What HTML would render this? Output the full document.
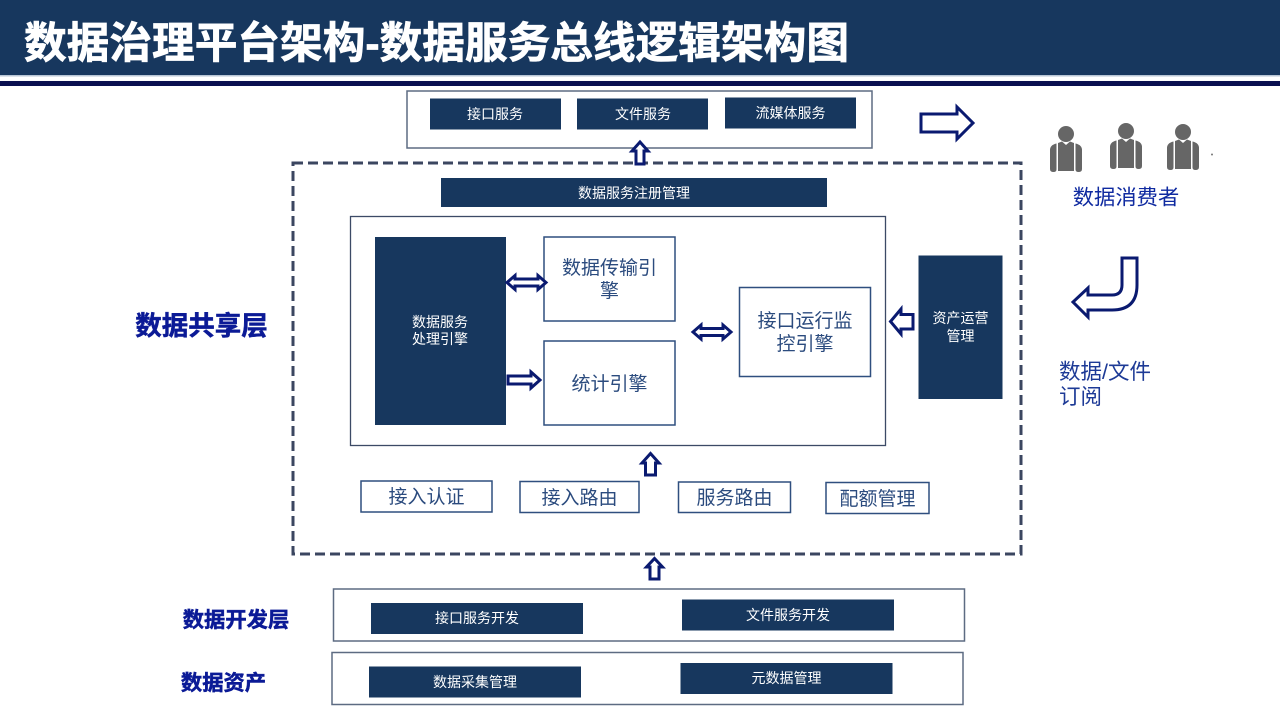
<!DOCTYPE html>
<html lang="zh">
<head>
<meta charset="utf-8">
<title>数据治理平台架构-数据服务总线逻辑架构图</title>
<style>
html,body{margin:0;padding:0;background:#fff;width:1280px;height:720px;overflow:hidden}
svg{display:block}
text{font-family:"Liberation Sans","Noto Sans CJK SC",sans-serif}
.d{fill:#17375e}
.bx{fill:#fff;stroke:#5d6b82;stroke-width:1.5}
.ib{fill:#fff;stroke:#2f4f7f;stroke-width:1.5}
.w{fill:#fff;font-size:14px;text-anchor:middle}
.b{fill:#2b4b7e;text-anchor:middle;font-size:19px}
.h{fill:#0b1a96;font-weight:700;text-anchor:middle;stroke:#0b1a96;stroke-width:.5}
.a{fill:#fff;stroke:#0a1a70;stroke-width:3;stroke-linejoin:miter}
.p{fill:#666}
</style>
</head>
<body>
<svg width="1280" height="720" viewBox="0 0 1280 720" xmlns="http://www.w3.org/2000/svg">
<defs>
<g id="person">
<circle class="p" cx="1066" cy="134" r="8"/>
<path class="p" d="M1058 143L1062 141.500L1066 145L1070 141.500L1074 143V171H1058Z"/>
<path class="p" d="M1056.500 143.500V169.500Q1056.500 172 1053.500 172Q1050 172 1050 169V150Q1050 145 1056.500 143.500Z"/>
<path class="p" d="M1075.500 143.500V169.500Q1075.500 172 1078.500 172Q1082 172 1082 169V150Q1082 145 1075.500 143.500Z"/>
</g>
</defs>
<rect width="1280" height="720" fill="#fff"/>
<rect width="1280" height="75" fill="#17375e"/>
<rect y="75" width="1280" height="1.500" fill="#b8c6d6"/>
<rect y="81" width="1280" height="5" fill="#0a1050"/>
<text x="24" y="58" font-size="43" font-weight="700" fill="#fff" stroke="#fff" stroke-width=".7" textLength="825" lengthAdjust="spacingAndGlyphs">数据治理平台架构-数据服务总线逻辑架构图</text>

<rect class="bx" x="407" y="91" width="465" height="57"/>
<rect class="d" x="430" y="98.500" width="131" height="31"/>
<rect class="d" x="577" y="98.500" width="131" height="31"/>
<rect class="d" x="725" y="97.500" width="131" height="31"/>
<text class="w" x="495" y="119">接口服务</text>
<text class="w" x="643" y="119">文件服务</text>
<text class="w" x="790.500" y="118">流媒体服务</text>

<rect x="293" y="163" width="728" height="391" fill="#fff" stroke="#3b4660" stroke-width="3" stroke-dasharray="10 5"/>
<path class="a" d="M636 164V151H632L640 142L648 151H644V164Z"/>

<rect class="d" x="441" y="178" width="386" height="29"/>
<text class="w" x="634" y="198">数据服务注册管理</text>

<rect x="350.500" y="216.500" width="535" height="229" fill="#fff" stroke="#3c4a66" stroke-width="1.300"/>
<rect class="d" x="375" y="237" width="131" height="188"/>
<text class="w" x="440" y="327">数据服务</text>
<text class="w" x="440" y="344">处理引擎</text>

<rect class="ib" x="544" y="237" width="131" height="84"/>
<text class="b" x="609.500" y="274">数据传输引</text>
<text class="b" x="609.500" y="297">擎</text>
<rect class="ib" x="544" y="341" width="131" height="84"/>
<text class="b" x="609.500" y="390">统计引擎</text>
<rect class="ib" x="739.500" y="287.500" width="131" height="89"/>
<text class="b" x="805" y="327">接口运行监</text>
<text class="b" x="805" y="350">控引擎</text>

<path class="a" d="M507 282.500L515 275.500V279H538V275.500L546 282.500L538 289.500V286H515V289.500Z"/>
<path class="a" d="M693 332L701 325V328.500H723V325L731 332L723 339V335.500H701V339Z"/>
<path class="a" d="M508 376H531V372L540 380L531 388V384H508Z"/>
<path class="a" d="M913 314.500H901V309L890.500 321.500L901 334V329H913Z"/>

<rect class="d" x="918.500" y="255.500" width="84" height="143.500"/>
<text class="w" x="960.500" y="323">资产运营</text>
<text class="w" x="960.500" y="341">管理</text>

<path class="a" d="M645.500 475V463H642L650.500 453.500L659 463H655.500V475Z"/>
<rect class="ib" x="361" y="481" width="131" height="31"/>
<rect class="ib" x="520" y="481.500" width="119" height="31"/>
<rect class="ib" x="678.500" y="482" width="112" height="30.500"/>
<rect class="ib" x="826" y="482.500" width="103" height="31"/>
<text class="b" x="426.500" y="503">接入认证</text>
<text class="b" x="579.500" y="504">接入路由</text>
<text class="b" x="734.500" y="504">服务路由</text>
<text class="b" x="877.500" y="505">配额管理</text>

<path class="a" d="M650 579V567H646.500L654.500 558.500L662.500 567H659V579Z"/>

<rect class="bx" x="333.500" y="589" width="631" height="52" stroke-width="1.800"/>
<rect class="d" x="371" y="603" width="212" height="31"/>
<rect class="d" x="682" y="599.500" width="212" height="31"/>
<text class="w" x="477" y="623">接口服务开发</text>
<text class="w" x="788" y="620">文件服务开发</text>

<rect class="bx" x="332" y="652.500" width="631" height="52" stroke="#3c4a66"/>
<rect class="d" x="369" y="666.500" width="212" height="31"/>
<rect class="d" x="680.500" y="663" width="212" height="31"/>
<text class="w" x="475" y="687">数据采集管理</text>
<text class="w" x="786.500" y="683">元数据管理</text>

<text class="h" x="201.500" y="335" font-size="26.500">数据共享层</text>
<text class="h" x="236" y="627" font-size="21.300">数据开发层</text>
<text class="h" x="223.500" y="690" font-size="21.300">数据资产</text>

<path class="a" d="M921 114H957V107L973 123L957 139V132H921Z"/>

<use href="#person"/>
<use href="#person" transform="translate(60,-3)"/>
<use href="#person" transform="translate(117,-2)"/>
<circle cx="1212" cy="154.500" r="1" fill="#777"/>

<text x="1126" y="204.500" font-size="21.300" fill="#0f2aa0" text-anchor="middle">数据消费者</text>

<path class="a" d="M1122 258H1137V285Q1137 310 1112 310H1088V317L1073 302L1088 288V295H1112Q1122 295 1122 285Z"/>

<text x="1059" y="379" font-size="21.500" fill="#1d3a96">数据/文件</text>
<text x="1059" y="404" font-size="21.500" fill="#1d3a96">订阅</text>
</svg>
</body>
</html>
